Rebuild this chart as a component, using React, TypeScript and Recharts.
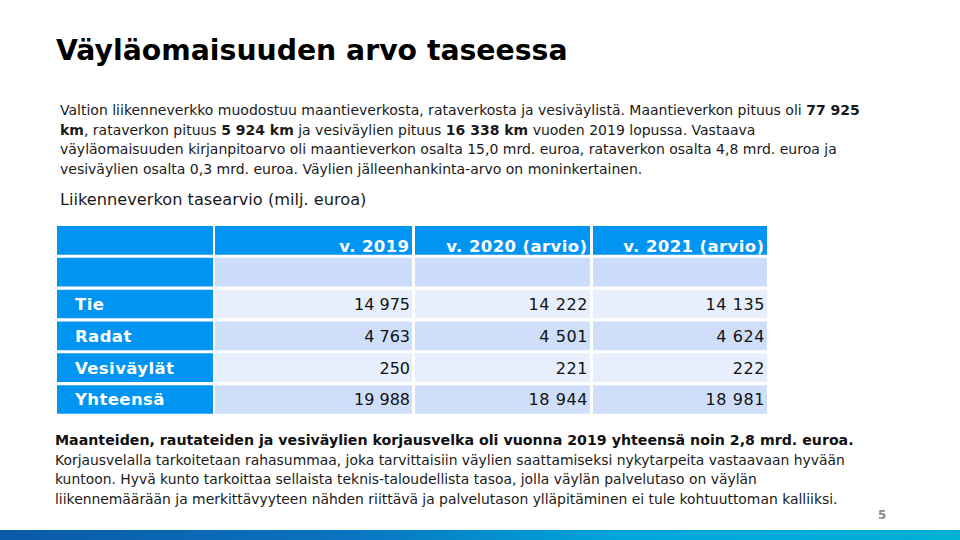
import React from "react";
import { ComposedChart, XAxis, YAxis, ReferenceArea, Scatter } from "recharts";

// Table data (milj. euroa)
const years = ["v. 2019", "v. 2020 (arvio)", "v. 2021 (arvio)"];
const rowNames = ["Tie", "Radat", "Vesiväylät", "Yhteensä"];
const tie = [14975, 14222, 14135];
const radat = [4763, 4501, 4624];
const vesivaylat = [250, 221, 222];
const yhteensa = [19988, 18944, 18981];

const tableRows = [
  { name: rowNames[0], values: tie },
  { name: rowNames[1], values: radat },
  { name: rowNames[2], values: vesivaylat },
  { name: rowNames[3], values: yhteensa },
];

// layout: column spans on the x axis, rows on the y axis
const COLS: [number, number][] = [
  [0, 156],
  [158, 355],
  [358, 533],
  [536, 710],
];
const ROW_H = 0.9;

const BLUE = "#0095f2";
const LIGHT = "#cfdffa";
const LIGHTER = "#e8effc";
const COND = "'DejaVu Sans Condensed', 'DejaVu Sans', sans-serif";
const SANS = "'DejaVu Sans', Verdana, sans-serif";

const fmt = (n: number) =>
  String(n).replace(/\B(?=(\d{3})+(?!\d))/g, "\u00a0");

type Cell = { x: number; y: number; text: string; kind: "head" | "name" | "value"; col: number };

// text anchor points of every cell
const textCells: Cell[] = [];
years.forEach((y, i) =>
  textCells.push({ x: COLS[i + 1][1] - 2.5, y: ROW_H, text: y, kind: "head", col: i })
);
tableRows.forEach((row, r) => {
  textCells.push({ x: COLS[0][0] + 18, y: r + 2 + ROW_H / 2, text: row.name, kind: "name", col: -1 });
  row.values.forEach((v, c) =>
    textCells.push({ x: COLS[c + 1][1] - 2, y: r + 2 + ROW_H / 2, text: fmt(v), kind: "value", col: c })
  );
});

const CellText = (props: any) => {
  const { cx, cy, payload } = props;
  const p = payload as Cell;
  if (p.kind === "head")
    return (
      <text x={cx} y={cy - 2.5} textAnchor="end" fill="#fff" fontSize={16.5}
        fontWeight={700} fontFamily={SANS} letterSpacing={0.4}>
        {p.text}
      </text>
    );
  if (p.kind === "name")
    return (
      <text x={cx} y={cy + 6} textAnchor="start" fill="#fff" fontSize={16.5}
        fontWeight={700} fontFamily={SANS} letterSpacing={0.4}>
        {p.text}
      </text>
    );
  return (
    <text x={cx} y={cy + 6} textAnchor="end" fill="#111" fontSize={16}
      fontFamily={SANS} letterSpacing={p.col > 0 ? 0.6 : 0}>
      {p.text}
    </text>
  );
};

function TableChart() {
  const areas: React.ReactNode[] = [];
  for (let r = 0; r < 6; r++) {
    COLS.forEach((col, c) => {
      let fill = BLUE;
      if (c > 0 && r === 1) fill = "#ccdcfb";
      if (c > 0 && r >= 2) fill = r % 2 === 0 ? LIGHTER : LIGHT;
      areas.push(
        <ReferenceArea key={r + "-" + c} x1={col[0]} x2={col[1]} y1={r} y2={r + ROW_H}
          fill={fill} fillOpacity={1} stroke="none" ifOverflow="visible" />
      );
    });
  }

  return (
    <ComposedChart
      width={960}
      height={540}
      margin={{ top: 226, right: 193, bottom: 123, left: 57 }}
      style={{ position: "absolute", left: 0, top: 0 }}
    >
      <XAxis type="number" dataKey="x" domain={[0, 710]} allowDataOverflow hide />
      <YAxis type="number" dataKey="y" domain={[0, 6]} allowDataOverflow reversed hide />
      {areas}
      <Scatter data={textCells} shape={CellText} isAnimationActive={false} />
    </ComposedChart>
  );
}

const line = (top: number, left: number, size: number, extra?: React.CSSProperties) => ({
  position: "absolute" as const,
  top,
  left,
  fontSize: size,
  lineHeight: "20px",
  whiteSpace: "nowrap" as const,
  fontFamily: SANS,
  color: "#1a1a1a",
  ...extra,
});

export default function App() {
  return (
    <div
      style={{
        position: "absolute",
        left: 0,
        top: 0,
        width: 960,
        height: 540,
        background: "#fff",
        overflow: "hidden",
      }}
    >
      <TableChart />

      <div
        style={{
          position: "absolute",
          top: 33,
          left: 56,
          fontSize: 28.3,
          lineHeight: "36px",
          fontWeight: 700,
          fontFamily: SANS,
          color: "#000",
          whiteSpace: "nowrap",
        }}
      >
        Väyläomaisuuden arvo taseessa
      </div>

      <div style={line(100, 60, 14)}>
        Valtion liikenneverkko muodostuu maantieverkosta, rataverkosta ja vesiväylistä. Maantieverkon pituus oli <b>77 925</b>
      </div>
      <div style={line(119.5, 60, 14)}>
        <b>km</b>, rataverkon pituus <b>5 924 km</b> ja vesiväylien pituus <b>16 338 km</b> vuoden 2019 lopussa. Vastaava
      </div>
      <div style={line(139, 60, 14)}>
        väyläomaisuuden kirjanpitoarvo oli maantieverkon osalta 15,0 mrd. euroa, rataverkon osalta 4,8 mrd. euroa ja
      </div>
      <div style={line(158.5, 60, 14)}>
        vesiväylien osalta 0,3 mrd. euroa. Väylien jälleenhankinta-arvo on moninkertainen.
      </div>

      <div style={line(190, 60, 16.2)}>Liikenneverkon tasearvio (milj. euroa)</div>

      <div style={line(430, 55, 14.2, { fontWeight: 700, color: "#111" })}>
        Maanteiden, rautateiden ja vesiväylien korjausvelka oli vuonna 2019 yhteensä noin 2,8 mrd. euroa.
      </div>
      <div style={line(449.5, 55, 13.9)}>
        Korjausvelalla tarkoitetaan rahasummaa, joka tarvittaisiin väylien saattamiseksi nykytarpeita vastaavaan hyvään
      </div>
      <div style={line(469, 55, 13.9)}>
        kuntoon. Hyvä kunto tarkoittaa sellaista teknis-taloudellista tasoa, jolla väylän palvelutaso on väylän
      </div>
      <div style={line(488.5, 55, 13.9)}>
        liikennemäärään ja merkittävyyteen nähden riittävä ja palvelutason ylläpitäminen ei tule kohtuuttoman kalliiksi.
      </div>

      <div
        style={{
          position: "absolute",
          top: 506,
          left: 878,
          fontSize: 13,
          lineHeight: "18px",
          fontWeight: 700,
          fontFamily: COND,
          color: "#8c8c8c",
        }}
      >
        5
      </div>

      <div
        style={{
          position: "absolute",
          top: 530,
          left: 0,
          width: 960,
          height: 10,
          background:
            "linear-gradient(90deg, #0a5aa6 0%, #0a72c0 35%, #00a6de 65%, #00b0d4 100%)",
        }}
      />
    </div>
  );
}
